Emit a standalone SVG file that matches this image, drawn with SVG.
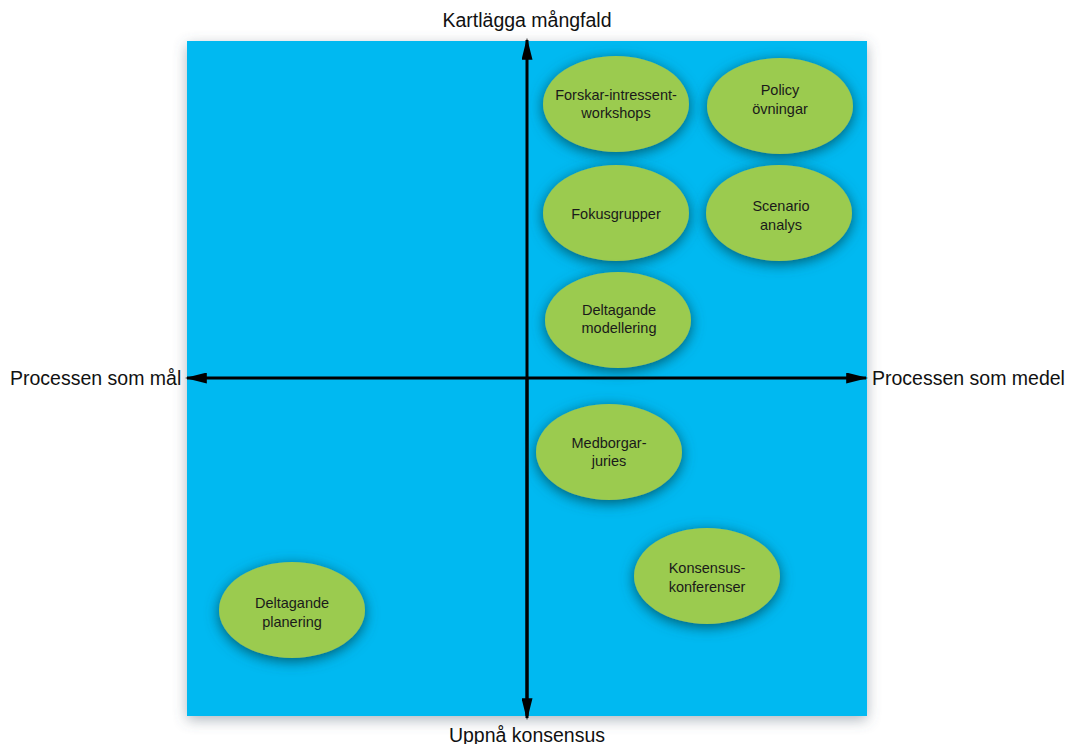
<svg xmlns="http://www.w3.org/2000/svg" width="1067" height="744" viewBox="0 0 1067 744">
<defs>
<style>
.lbl{font-family:"Liberation Sans",Arial,sans-serif;font-size:14.5px;fill:#1a1a1a;text-anchor:middle}
.ax{font-family:"Liberation Sans",Arial,sans-serif;font-size:19.5px;fill:#111}
.ell{fill:#9BCB4F;filter:url(#es)}
.axis{stroke:#000;stroke-width:3;fill:none}
</style>
<filter id="es" x="-30%" y="-30%" width="160%" height="160%">
<feGaussianBlur in="SourceAlpha" stdDeviation="7"/>
<feOffset dx="0" dy="3" result="b"/>
<feFlood flood-color="#06505f" flood-opacity="0.9"/>
<feComposite in2="b" operator="in"/>
<feMerge><feMergeNode/><feMergeNode in="SourceGraphic"/></feMerge>
</filter>
<filter id="bs" x="-10%" y="-10%" width="120%" height="120%">
<feGaussianBlur in="SourceAlpha" stdDeviation="7"/>
<feOffset dx="0" dy="4" result="b"/>
<feFlood flood-color="#506070" flood-opacity="0.45"/>
<feComposite in2="b" operator="in"/>
<feMerge><feMergeNode/><feMergeNode in="SourceGraphic"/></feMerge>
</filter>
<marker id="ah2" viewBox="0 0 10 10" refX="9" refY="5" markerWidth="22" markerHeight="11" markerUnits="userSpaceOnUse" orient="auto" preserveAspectRatio="none">
<path d="M0,0 L10,5 L0,10 z" fill="#000"/>
</marker>
</defs>
<rect width="1067" height="744" fill="#fff"/>
<rect id="field" x="187" y="41" width="680" height="675" fill="#00B9F1" filter="url(#bs)"/>
<g id="connectors">
<line class="axis" x1="527" y1="716" x2="527" y2="40" marker-end="url(#ah2)"/>
<line class="axis" x1="527" y1="378" x2="527" y2="718" marker-end="url(#ah2)"/>
<line class="axis" x1="527" y1="378" x2="187" y2="378" marker-end="url(#ah2)"/>
<line class="axis" x1="527" y1="378" x2="866" y2="378" marker-end="url(#ah2)"/>
</g>
<g id="n1"><ellipse class="ell" cx="616" cy="104" rx="73" ry="48"/><text class="lbl" x="616" y="100">Forskar-intressent-</text><text class="lbl" x="616" y="118">workshops</text></g>
<g id="n2"><ellipse class="ell" cx="780" cy="106" rx="73" ry="48"/><text class="lbl" x="780" y="95">Policy</text><text class="lbl" x="780" y="114">övningar</text></g>
<g id="n3"><ellipse class="ell" cx="616" cy="213" rx="73" ry="48"/><text class="lbl" x="616" y="219">Fokusgrupper</text></g>
<g id="n4"><ellipse class="ell" cx="779" cy="213" rx="73" ry="48"/><text class="lbl" x="781" y="211">Scenario</text><text class="lbl" x="781" y="230">analys</text></g>
<g id="n5"><ellipse class="ell" cx="618" cy="320" rx="73" ry="48"/><text class="lbl" x="619" y="315">Deltagande</text><text class="lbl" x="619" y="333">modellering</text></g>
<g id="n6"><ellipse class="ell" cx="609" cy="452" rx="73" ry="48"/><text class="lbl" x="609" y="448">Medborgar-</text><text class="lbl" x="609" y="466">juries</text></g>
<g id="n7"><ellipse class="ell" cx="707" cy="576" rx="73" ry="48"/><text class="lbl" x="707" y="573">Konsensus-</text><text class="lbl" x="707" y="592">konferenser</text></g>
<g id="n8"><ellipse class="ell" cx="292" cy="610" rx="73" ry="48"/><text class="lbl" x="292" y="608">Deltagande</text><text class="lbl" x="292" y="627">planering</text></g>
<text class="ax" x="527" y="27" text-anchor="middle">Kartlägga mångfald</text>
<text class="ax" x="10" y="385">Processen som mål</text>
<text class="ax" x="872" y="385">Processen som medel</text>
<text class="ax" x="527" y="742" text-anchor="middle">Uppnå konsensus</text>
</svg>
